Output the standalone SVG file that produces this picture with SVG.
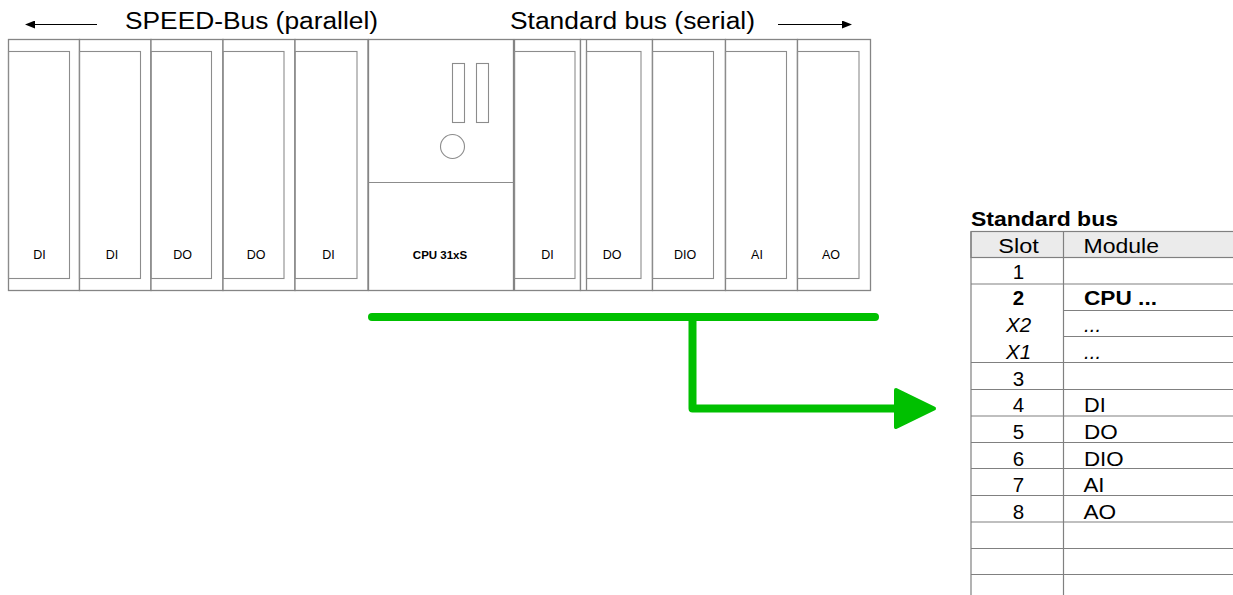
<svg xmlns="http://www.w3.org/2000/svg" width="1233" height="595" viewBox="0 0 1233 595">
<style>
.outer{fill:#fff;stroke:#858585;stroke-width:1.3}
.inner{fill:none;stroke:#8c8c8c;stroke-width:1.1}
.ml{font-family:"Liberation Sans",Arial,sans-serif;font-size:12.5px;fill:#000;text-anchor:middle}
.hd{font-family:"Liberation Sans",Arial,sans-serif;font-size:23px;fill:#000}
.tt{font-family:"Liberation Sans",Arial,sans-serif;font-size:20.5px;fill:#000}
.c{text-anchor:middle}
.b{font-weight:bold}
.i{font-style:italic}
.grid{stroke:#808080;stroke-width:1.2;fill:none}
.green{stroke:#00c000;stroke-width:8;fill:none;stroke-linecap:round;stroke-linejoin:round}
</style>
<defs>
<marker id="ah" viewBox="0 0 10 8" refX="0" refY="4" markerWidth="10" markerHeight="8" markerUnits="userSpaceOnUse" orient="auto">
<path d="M0,0 L10,4 L0,8 Z" fill="#000"/>
</marker>
</defs>
<rect width="1233" height="595" fill="#fff"/>
<g id="header">
<line x1="97" y1="24.5" x2="35" y2="24.5" stroke="#000" stroke-width="1" marker-end="url(#ah)"/>
<text class="hd" x="125" y="28.5" textLength="253" lengthAdjust="spacingAndGlyphs">SPEED-Bus (parallel)</text>
<text class="hd" x="510" y="28.5" textLength="245" lengthAdjust="spacingAndGlyphs">Standard bus (serial)</text>
<line x1="778" y1="24.5" x2="842" y2="24.5" stroke="#000" stroke-width="1" marker-end="url(#ah)"/>
</g>
<g id="m1"><rect class="outer" x="8.5" y="39.5" width="71" height="251"/><rect class="inner" x="8.5" y="51.5" width="61" height="227"/><text class="ml" x="39.5" y="259">DI</text></g>
<g id="m2"><rect class="outer" x="79.5" y="39.5" width="71.5" height="251"/><rect class="inner" x="79.5" y="51.5" width="61" height="227"/><text class="ml" x="112" y="259">DI</text></g>
<g id="m3"><rect class="outer" x="151" y="39.5" width="72" height="251"/><rect class="inner" x="151" y="51.5" width="60.5" height="227"/><text class="ml" x="182.5" y="259">DO</text></g>
<g id="m4"><rect class="outer" x="223" y="39.5" width="72" height="251"/><rect class="inner" x="223" y="51.5" width="61" height="227"/><text class="ml" x="256" y="259">DO</text></g>
<g id="m5"><rect class="outer" x="295" y="39.5" width="73" height="251"/><rect class="inner" x="295" y="51.5" width="62" height="227"/><text class="ml" x="328.5" y="259">DI</text></g>
<g id="cpu">
<rect class="outer" x="368.5" y="39.5" width="145" height="251"/>
<line class="inner" x1="368.5" y1="182.5" x2="513.5" y2="182.5"/>
<rect class="inner" x="452.5" y="63.5" width="12" height="59"/>
<rect class="inner" x="476.5" y="63.5" width="12" height="59"/>
<circle class="inner" cx="452.5" cy="146.5" r="12"/>
<text class="ml b" x="440" y="259" style="font-size:11.5px">CPU 31xS</text>
</g>
<g id="m6"><rect class="outer" x="514.5" y="39.5" width="66" height="251"/><rect class="inner" x="514.5" y="51.5" width="60.5" height="227"/><text class="ml" x="547.5" y="259">DI</text></g>
<g id="m7"><rect class="outer" x="580.5" y="39.5" width="72" height="251"/><line class="outer" x1="586.5" y1="39.5" x2="586.5" y2="290.5"/><rect class="inner" x="586.5" y="51.5" width="54.5" height="227"/><text class="ml" x="612" y="259">DO</text></g>
<g id="m8"><rect class="outer" x="652.5" y="39.5" width="73" height="251"/><rect class="inner" x="652.5" y="51.5" width="61" height="227"/><text class="ml" x="685" y="259">DIO</text></g>
<g id="m9"><rect class="outer" x="725.5" y="39.5" width="72" height="251"/><rect class="inner" x="725.5" y="51.5" width="61" height="227"/><text class="ml" x="757" y="259">AI</text></g>
<g id="m10"><rect class="outer" x="797.5" y="39.5" width="73" height="251"/><rect class="inner" x="797.5" y="51.5" width="61.5" height="227"/><text class="ml" x="831" y="259">AO</text></g>
<g id="connectors">
<path class="green" d="M372 317 H875"/>
<path class="green" d="M692.5 317 V408.5 H900"/>
<path d="M896 390 L934 408.5 L896 427 Z" fill="#00c000" stroke="#00c000" stroke-width="4" stroke-linejoin="round"/>
</g>
<g id="table">
<text class="tt b" x="971" y="226" textLength="147" lengthAdjust="spacingAndGlyphs">Standard bus</text>
<rect x="971" y="231.5" width="270" height="26" fill="#ebebeb" stroke="#808080" stroke-width="1.2"/>
<path class="grid" d="M971 231.5 V600 M1063.5 231.5 V600 M971 257.5 H1240 M971 284 H1240 M1063.5 310.5 H1240 M1063.5 336.5 H1240 M971 362.5 H1240 M971 389.5 H1240 M971 416 H1240 M971 442.5 H1240 M971 468.5 H1240 M971 495.5 H1240 M971 522 H1240 M971 548.5 H1240 M971 574.5 H1240"/>
<text class="tt c" x="1018.5" y="252.5" textLength="40.5" lengthAdjust="spacingAndGlyphs">Slot</text>
<text class="tt" x="1083.5" y="252.5" textLength="75.5" lengthAdjust="spacingAndGlyphs">Module</text>
<text class="tt c" x="1018.5" y="279">1</text>
<text class="tt c b" x="1018.5" y="305">2</text>
<text class="tt b" x="1084" y="305" textLength="73" lengthAdjust="spacingAndGlyphs">CPU ...</text>
<text class="tt c i" x="1018.5" y="331.5">X2</text>
<text class="tt i" x="1084" y="331.5">...</text>
<text class="tt c i" x="1018.5" y="358.5">X1</text>
<text class="tt i" x="1084" y="358.5">...</text>
<text class="tt c" x="1018.5" y="385.5">3</text>
<text class="tt c" x="1018.5" y="411.5">4</text>
<text class="tt" x="1084" y="411.5" textLength="21.7" lengthAdjust="spacingAndGlyphs">DI</text>
<text class="tt c" x="1018.5" y="438.5">5</text>
<text class="tt" x="1084" y="438.5" textLength="33.7" lengthAdjust="spacingAndGlyphs">DO</text>
<text class="tt c" x="1018.5" y="465.5">6</text>
<text class="tt" x="1084" y="465.5" textLength="39.7" lengthAdjust="spacingAndGlyphs">DIO</text>
<text class="tt c" x="1018.5" y="492">7</text>
<text class="tt" x="1083.5" y="492" textLength="21" lengthAdjust="spacingAndGlyphs">AI</text>
<text class="tt c" x="1018.5" y="518.5">8</text>
<text class="tt" x="1083.5" y="518.5" textLength="32.7" lengthAdjust="spacingAndGlyphs">AO</text>
</g>
</svg>
